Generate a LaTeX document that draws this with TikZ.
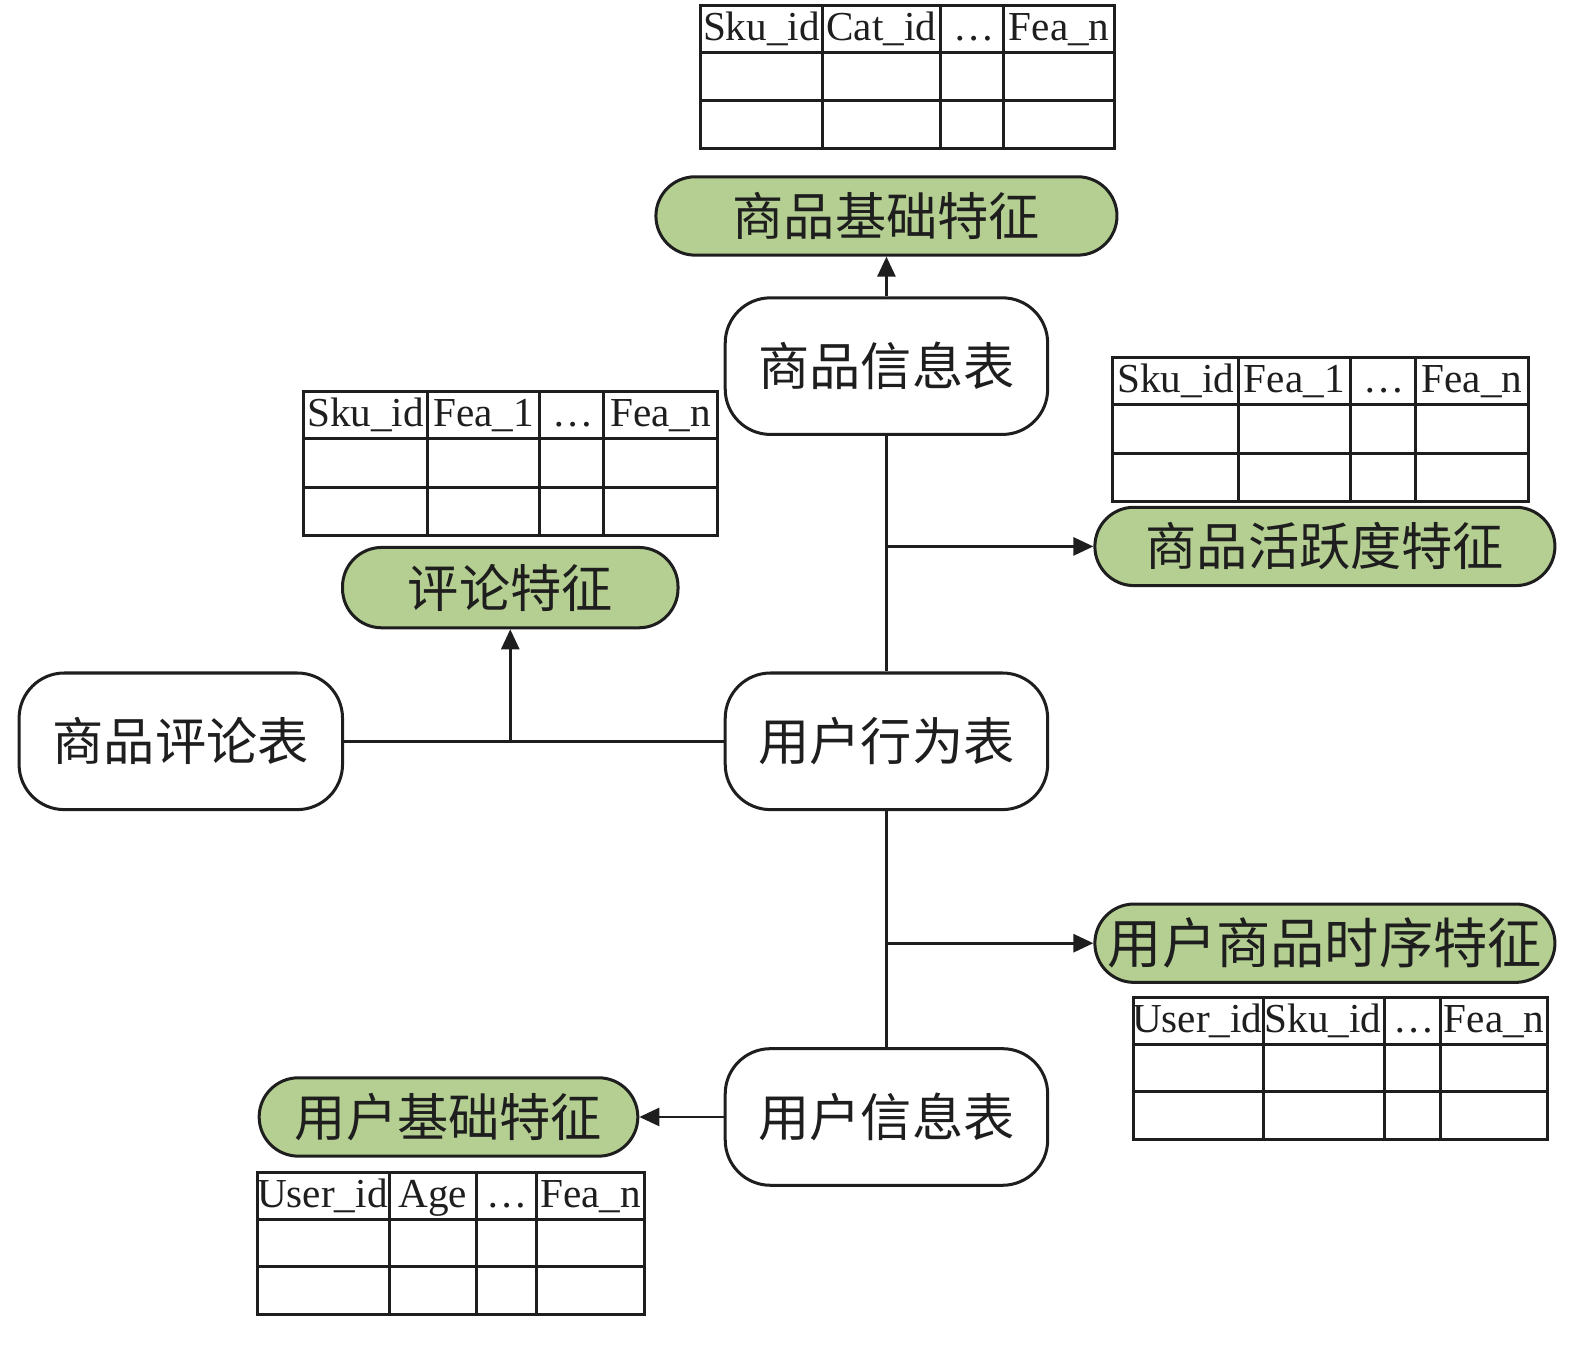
\documentclass[tikz,border=0pt]{standalone}
\usepackage{fontspec}
\setmainfont{Liberation Serif}
\newfontfamily\cjk{Noto Sans CJK SC}
\usetikzlibrary{arrows.meta}
\definecolor{featgreen}{RGB}{180,207,145}
\definecolor{ink}{RGB}{30,30,30}
\begin{document}
\begin{tikzpicture}[x=1pt,y=-1pt,
  tbox/.style={draw=ink,line width=3pt,rounded corners=45pt,fill=white,
    minimum width=321pt,minimum height=136pt,inner sep=0pt,
    font=\cjk\fontsize{51}{60}\selectfont,text=ink},
  feat/.style={draw=ink,line width=3pt,rounded corners=39pt,fill=featgreen,
    minimum height=78pt,inner sep=0pt,
    font=\cjk\fontsize{51}{60}\selectfont,text=ink},
  conn/.style={draw=ink,line width=2.8pt},
  arr/.style={conn,-{Triangle[length=20pt,width=18pt]}},
  tbl/.style={draw=ink,line width=3pt},
  hdr/.style={inner sep=0pt,anchor=base,font=\fontsize{41}{48}\selectfont,text=ink}
]
\useasboundingbox (0,0) rectangle (1568,1360);

% ---- main table nodes
\node[tbox] (spxx) at (882.5,364.5) {商品信息表};
\node[tbox] (yhxw) at (882.5,738) {用户行为表};
\node[tbox] (yhxx) at (882.5,1112) {用户信息表};
\node[tbox,minimum width=322pt] (plb) at (180,738) {商品评论表};

% ---- feature nodes
\node[feat,minimum width=459pt] (spjc) at (882.5,215) {商品基础特征};
\node[feat,minimum width=334pt,minimum height=80pt] (plfeat) at (508,585) {评论特征};
\node[feat,minimum width=458pt] (hyd) at (1319,544) {商品活跃度特征};
\node[feat,minimum width=458pt] (sx) at (1319,939) {\fontsize{54}{62}\selectfont 用户商品时序特征};
\node[feat,minimum width=377pt] (yhjc) at (446.5,1112) {用户基础特征};

% ---- connectors
\draw[arr] (spxx.north) -- (spjc.south);
\draw[conn] (spxx.south) -- (yhxw.north);
\coordinate (j1) at (882.5,544);
\draw[arr] (j1) -- (hyd.west);
\draw[conn] (yhxw.south) -- (yhxx.north);
\coordinate (j2) at (882.5,939);
\draw[arr] (j2) -- (sx.west);
\draw[conn] (plb.east) -- (yhxw.west);
\coordinate (j3) at (508,738);
\draw[arr] (j3) -- (plfeat.south);
\draw[arr] (yhxx.west) -- (yhjc.east);

% ---- table 1 (top)
\draw[tbl] (697,5) rectangle (1110,148);
\foreach \x in {819,936,999} \draw[tbl] (\x,5) -- (\x,148);
\foreach \y in {52,100} \draw[tbl] (697,\y) -- (1110,\y);
\node[hdr] (t1a) at (758,40) {Sku\_id};
\node[hdr] (t1b) at (877.5,40) {Cat\_id};
\node[hdr] (t1c) at (970,40) {\ldots};
\node[hdr] (t1d) at (1054.5,40) {Fea\_n};

% ---- table 2 (comment)
\draw[tbl] (302,390) rectangle (714,533);
\foreach \x in {426,537,601} \draw[tbl] (\x,390) -- (\x,533);
\foreach \y in {437,485} \draw[tbl] (302,\y) -- (714,\y);
\node[hdr] (t2a) at (364,425) {Sku\_id};
\node[hdr] (t2b) at (481.5,425) {Fea\_1};
\node[hdr] (t2c) at (571,425) {\ldots};
\node[hdr] (t2d) at (657.5,425) {Fea\_n};

% ---- table 3 (activity)
\draw[tbl] (1108,356) rectangle (1522,499);
\foreach \x in {1233,1344,1409} \draw[tbl] (\x,356) -- (\x,499);
\foreach \y in {403,451} \draw[tbl] (1108,\y) -- (1522,\y);
\node[hdr] (t3a) at (1170.5,391) {Sku\_id};
\node[hdr] (t3b) at (1288.5,391) {Fea\_1};
\node[hdr] (t3c) at (1378,391) {\ldots};
\node[hdr] (t3d) at (1465.5,391) {Fea\_n};

% ---- table 4 (time series)
\draw[tbl] (1128,993) rectangle (1541,1134);
\foreach \x in {1258,1378,1434} \draw[tbl] (\x,993) -- (\x,1134);
\foreach \y in {1040,1087} \draw[tbl] (1128,\y) -- (1541,\y);
\node[hdr] (t4a) at (1192,1028) {User\_id};
\node[hdr] (t4b) at (1317,1028) {Sku\_id};
\node[hdr] (t4c) at (1408,1028) {\ldots};
\node[hdr] (t4d) at (1487.5,1028) {Fea\_n};

% ---- table 5 (user basic)
\draw[tbl] (256,1167) rectangle (642,1309);
\foreach \x in {388,474,534} \draw[tbl] (\x,1167) -- (\x,1309);
\foreach \y in {1214,1261} \draw[tbl] (256,\y) -- (642,\y);
\node[hdr] (t5a) at (321,1202) {User\_id};
\node[hdr] (t5b) at (431,1202) {Age};
\node[hdr] (t5c) at (505,1202) {\ldots};
\node[hdr] (t5d) at (588,1202) {Fea\_n};
\end{tikzpicture}
\end{document}
